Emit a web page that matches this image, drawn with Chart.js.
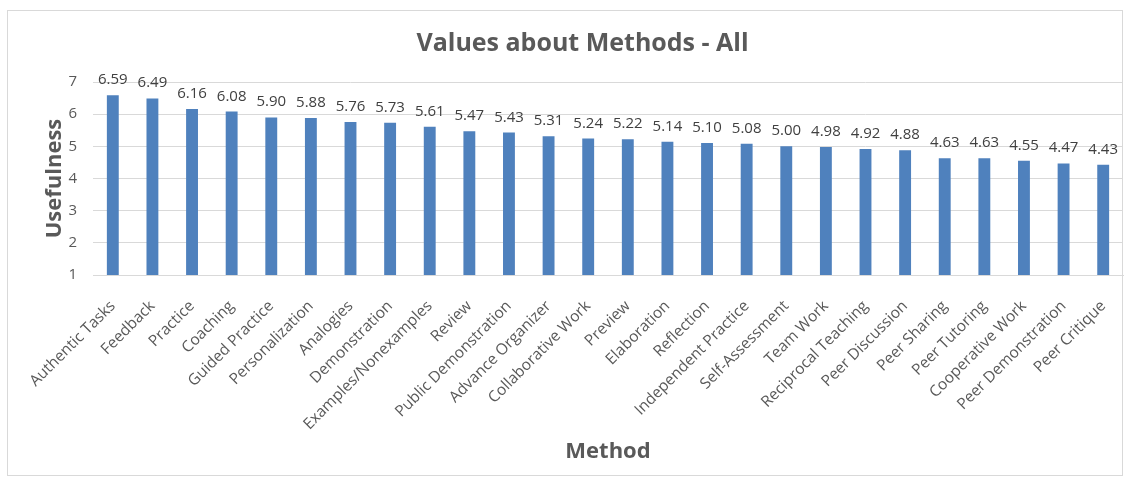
<!DOCTYPE html>
<html>
<head>
<meta charset="utf-8">
<script src="https://cdn.jsdelivr.net/npm/chart.js@4.4.1/dist/chart.umd.min.js"></script>
<style>
  html, body { margin: 0; padding: 0; background: #ffffff; }
  #wrap { position: absolute; left: 7px; top: 10px; width: 1116px; height: 466px; border: 1px solid #d9d9d9; box-sizing: border-box; }
  #c { position: absolute; left: 0; top: 0; }
</style>
</head>
<body>
<div id="wrap"></div>
<canvas id="c" width="1131" height="482"></canvas>
<script>
const categories = ["Authentic Tasks","Feedback","Practice","Coaching","Guided Practice","Personalization","Analogies","Demonstration","Examples/Nonexamples","Review","Public Demonstration","Advance Organizer","Collaborative Work","Preview","Elaboration","Reflection","Independent Practice","Self-Assessment","Team Work","Reciprocal Teaching","Peer Discussion","Peer Sharing","Peer Tutoring","Cooperative Work","Peer Demonstration","Peer Critique"];
const usefulness = [6.59,6.49,6.16,6.08,5.90,5.88,5.76,5.73,5.61,5.47,5.43,5.31,5.24,5.22,5.14,5.10,5.08,5.00,4.98,4.92,4.88,4.63,4.63,4.55,4.47,4.43];
const yTicks = [1,2,3,4,5,6,7];

const FONT = "'Open Sans', 'Liberation Sans', sans-serif";

const valueLabels = {
  id: 'valueLabels',
  afterDatasetsDraw(chart) {
    const ctx = chart.ctx;
    const meta = chart.getDatasetMeta(0);
    ctx.save();
    ctx.font = "15px " + FONT;
    ctx.fillStyle = '#404040';
    ctx.textAlign = 'center';
    ctx.textBaseline = 'alphabetic';
    meta.data.forEach((bar, i) => {
      ctx.fillText(usefulness[i].toFixed(2), bar.x, bar.y - 11);
    });
    ctx.restore();
  }
};

new Chart(document.getElementById('c'), {
  type: 'bar',
  data: {
    labels: categories,
    datasets: [{
      data: usefulness,
      backgroundColor: '#4f81bd',
      borderWidth: 0,
      barPercentage: 0.6,
      categoryPercentage: 0.5
    }]
  },
  options: {
    responsive: false,
    animation: false,
    layout: { padding: { left: 42, right: 8, top: 29, bottom: 17 } },
    plugins: {
      legend: { display: false },
      tooltip: { enabled: false },
      title: {
        display: true,
        text: 'Values about Methods - All',
        color: '#595959',
        font: { family: FONT, size: 25, weight: 'bold' },
        padding: { top: 0, bottom: 23 }
      }
    },
    scales: {
      x: {
        grid: { display: false },
        border: { color: '#d9d9d9' },
        afterFit(scale) {
          scale.paddingLeft = 0;
          scale.paddingRight = 0;
          scale.height = 190;
        },
        ticks: {
          color: '#595959',
          font: { family: FONT, size: 15.5 },
          maxRotation: 45, minRotation: 45,
          autoSkip: false,
          padding: 14
        },
        title: {
          display: true,
          text: 'Method',
          color: '#595959',
          font: { family: FONT, size: 22, weight: 'bold' },
          padding: { top: 0, bottom: 0 }
        }
      },
      y: {
        min: 1, max: 7,
        afterBuildTicks(scale) { scale.ticks = yTicks.map(v => ({ value: v })); },
        afterFit(scale) { scale.width = 51; },
        grid: { color: '#d9d9d9', drawTicks: false },
        border: { display: false },
        ticks: {
          color: '#595959',
          font: { family: FONT, size: 15 },
          padding: 16
        },
        title: {
          display: true,
          text: 'Usefulness',
          color: '#595959',
          font: { family: FONT, size: 22, weight: 'bold' },
          padding: { top: 0, bottom: 0 }
        }
      }
    }
  },
  plugins: [valueLabels]
});
</script>
</body>
</html>
